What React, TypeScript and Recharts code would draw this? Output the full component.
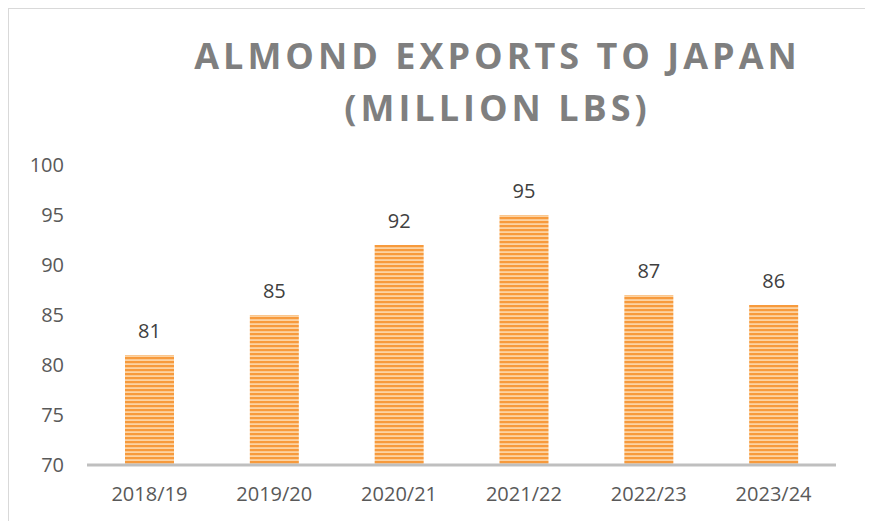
import { BarChart, Bar, XAxis, YAxis, LabelList } from 'recharts';

const seasons = ['2018/19', '2019/20', '2020/21', '2021/22', '2022/23', '2023/24'];
const exports = [81, 85, 92, 95, 87, 86];
const yTicks = [70, 75, 80, 85, 90, 95, 100];

const data = seasons.map((season, i) => ({ season, value: exports[i] }));

export default function App() {
  return (
    <div
      style={{
        position: 'relative',
        width: 857,
        height: 520,
        borderTop: '2px solid #d9d9d9',
        borderLeft: '2px solid #d9d9d9',
        borderRight: '2px solid #d9d9d9',
        marginLeft: -1,
        marginTop: -1,
        background: '#fff',
        fontFamily: '"Open Sans", sans-serif',
      }}
    >
      <div
        style={{
          position: 'absolute',
          left: 0,
          top: 21,
          width: 857,
          paddingLeft: 120,
          boxSizing: 'border-box',
          textAlign: 'center',
          color: '#7f7f7f',
          fontWeight: 700,
          fontSize: 36,
          letterSpacing: 4,
          lineHeight: '52px',
        }}
      >
        ALMOND EXPORTS TO JAPAN
        <br />
        (MILLION LBS)
      </div>
      <BarChart
        width={857}
        height={511}
        data={data}
        margin={{ top: 156, right: 30, bottom: 20, left: 18 }}
        barCategoryGap={38}
      >
        <defs>
          <pattern id="stripes" width="8" height="4" patternUnits="userSpaceOnUse">
            <rect x="0" y="0" width="8" height="4" fill="#fcd3a3" />
            <rect x="0" y="0" width="8" height="2.2" fill="#f79a3c" />
          </pattern>
        </defs>
        <XAxis
          dataKey="season"
          axisLine={{ stroke: '#bfbfbf', strokeWidth: 3 }}
          tickLine={false}
          tick={{ fill: '#595959', fontSize: 20 }}
          tickMargin={16}
          height={35}
        />
        <YAxis
          domain={[70, 100]}
          ticks={yTicks}
          axisLine={false}
          tickLine={false}
          tick={{ fill: '#595959', fontSize: 20 }}
          tickSize={0}
          tickMargin={23}
          width={60}
          allowDataOverflow
        />
        <Bar dataKey="value" fill="url(#stripes)" isAnimationActive={false}>
          <LabelList dataKey="value" position="top" offset={17} fill="#404040" fontSize={20} />
        </Bar>
      </BarChart>
    </div>
  );
}
